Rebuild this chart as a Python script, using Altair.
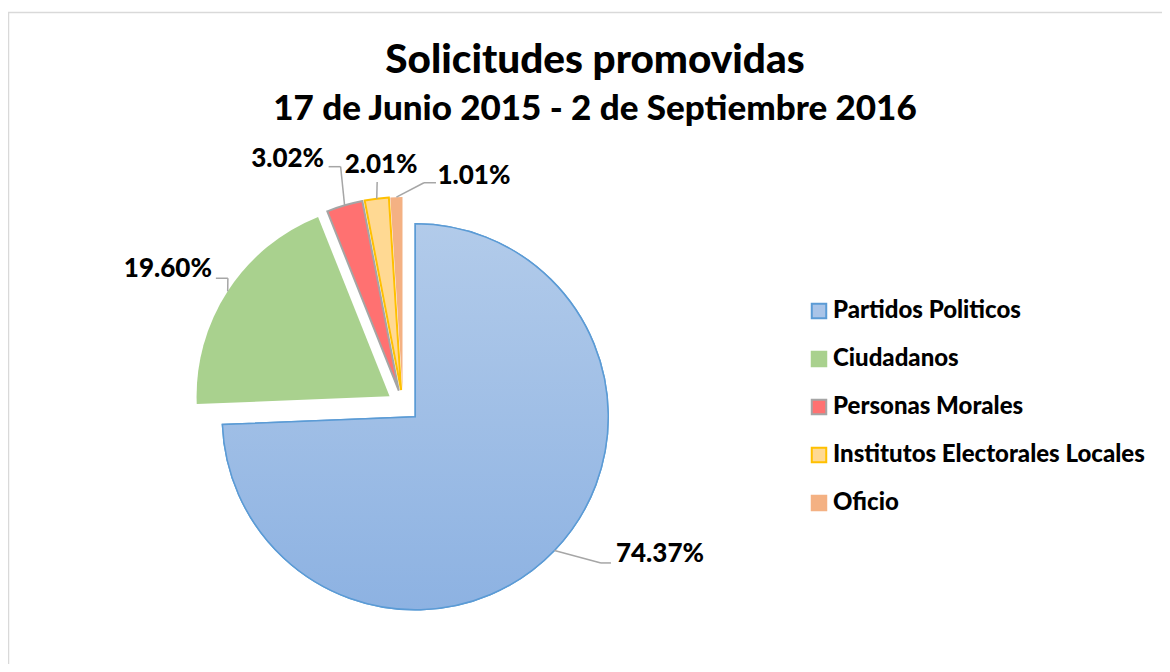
import altair as alt
import pandas as pd

# ---- data ----
categories = ["Partidos Politicos", "Ciudadanos", "Personas Morales",
              "Institutos Electorales Locales", "Oficio"]
shares = [74.37, 19.60, 3.02, 2.01, 1.01]
labels = ["74.37%", "19.60%", "3.02%", "2.01%", "1.01%"]

# ---- styles ----
fills = ["#A9C4E8", "#A9D18E", "#FF7171", "#FFD993", "#F4B183"]
strokes = ["#5B9BD5", "#A9D18E", "#A5A5A5", "#FFC000", "#F4B183"]
stroke_w = [1.5, 0, 2, 2, 0]
explode = [17, 16, 15, 15, 15]

# ---- layout (pie centre, radius, label placement in polar terms) ----
CX, CY, R = 395, 397, 193
label_angle = [120.1, 300.0, 334.9, 354.8, 17.2]
label_radius = [297, 271.5, 272, 241, 240]
end_dx = [-49, 48, 41, -4, -38]
end_dy = [9, 9, 8, 17, 7]
stub = [-10, 12, 12, 0, -12]

W, H = 1154, 656
FONT = "Lato"
WEIGHT = 900

df = pd.DataFrame({
    "idx": list(range(len(categories))),
    "cat": categories,
    "share": shares,
    "label": labels,
    "explode": explode,
    "sw": stroke_w,
    "la": label_angle,
    "lr": label_radius,
    "edx": end_dx,
    "edy": end_dy,
    "stub": stub,
})

PI = "PI"
base = (
    alt.Chart(df)
    .transform_joinaggregate(total="sum(share)")
    .transform_window(cum="sum(share)", sort=[alt.SortField("idx")], frame=[None, 0])
    .transform_calculate(
        t0=f"2*{PI}*(datum.cum - datum.share)/datum.total",
        t1=f"2*{PI}*datum.cum/datum.total",
    )
    .transform_calculate(mid="(datum.t0 + datum.t1)/2")
    .transform_calculate(
        cx=f"{CX} + datum.explode*sin(datum.mid)",
        cy=f"{CY} - datum.explode*cos(datum.mid)",
    )
    .transform_calculate(
        ex=f"datum.cx + {R}*sin(datum.mid)",
        ey=f"datum.cy - {R}*cos(datum.mid)",
        lx=f"{CX} + datum.lr*sin(datum.la*{PI}/180)",
        ly=f"{CY} - datum.lr*cos(datum.la*{PI}/180)",
    )
    .transform_calculate(
        endx="datum.lx + datum.edx",
        endy="datum.ly + datum.edy",
    )
    .transform_calculate(elbx="datum.endx + datum.stub")
)

legend = alt.Legend(
    title=None, orient="none", legendX=799, legendY=291,
    symbolType="square", symbolSize=210, symbolStrokeWidth=2,
    labelFont=FONT, labelFontWeight=WEIGHT, labelFontSize=24, labelColor="#000000",
    labelOffset=2, rowPadding=24, labelLimit=400,
)

arcs = base.mark_arc(radius=R).encode(
    theta=alt.Theta("t0:Q", scale=None),
    theta2="t1:Q",
    x=alt.X("cx:Q", scale=None),
    y=alt.Y("cy:Q", scale=None),
    fill=alt.Fill("cat:N", scale=alt.Scale(domain=categories, range=fills), legend=legend),
    stroke=alt.Stroke("cat:N", scale=alt.Scale(domain=categories, range=strokes), legend=legend),
    strokeWidth=alt.StrokeWidth("sw:Q", scale=None, legend=None),
)

grad = alt.LinearGradient(
    gradient="linear",
    stops=[alt.GradientStop(color="#B2CBEA", offset=0),
           alt.GradientStop(color="#8DB2E2", offset=1)],
    x1=0, x2=0, y1=0, y2=1,
)
blue = base.transform_filter(alt.datum.idx == 0).mark_arc(
    radius=R, fill=grad, stroke="#5B9BD5", strokeWidth=1.5
).encode(
    theta=alt.Theta("t0:Q", scale=None),
    theta2="t1:Q",
    x=alt.X("cx:Q", scale=None),
    y=alt.Y("cy:Q", scale=None),
)

lead1 = base.mark_rule(color="#A6A6A6", strokeWidth=1.5).encode(
    x=alt.X("ex:Q", scale=None), y=alt.Y("ey:Q", scale=None),
    x2="elbx:Q", y2="endy:Q",
)
lead2 = base.mark_rule(color="#A6A6A6", strokeWidth=1.5).encode(
    x=alt.X("elbx:Q", scale=None), y=alt.Y("endy:Q", scale=None),
    x2="endx:Q", y2="endy:Q",
)
texts = base.mark_text(
    font=FONT, fontWeight=WEIGHT, fontSize=26, color="#000000",
    align="center", baseline="middle",
).encode(
    x=alt.X("lx:Q", scale=None), y=alt.Y("ly:Q", scale=None), text="label:N",
)

title_df = pd.DataFrame({"t": ["Solicitudes promovidas"]})
sub_df = pd.DataFrame({"t": ["17 de Junio 2015 - 2 de Septiembre 2016"]})
title = alt.Chart(title_df).mark_text(
    font=FONT, fontWeight=WEIGHT, fontSize=40.5, color="#000000",
    align="center", baseline="alphabetic",
).encode(x=alt.value(587), y=alt.value(65), text="t:N")
subtitle = alt.Chart(sub_df).mark_text(
    font=FONT, fontWeight=WEIGHT, fontSize=35, color="#000000",
    align="center", baseline="alphabetic",
).encode(x=alt.value(587), y=alt.value(112), text="t:N")

frame_df = pd.DataFrame({"k": [0]})
frame_top = alt.Chart(frame_df).mark_rule(color="#D9D9D9", strokeWidth=1.5).encode(
    x=alt.value(0), x2=alt.value(W), y=alt.value(4.5), y2=alt.value(4.5))
frame_left = alt.Chart(frame_df).mark_rule(color="#D9D9D9", strokeWidth=1.5).encode(
    x=alt.value(0.5), x2=alt.value(0.5), y=alt.value(4.5), y2=alt.value(H))

chart = alt.layer(
    frame_top, frame_left, arcs, blue, lead1, lead2, texts, title, subtitle
).properties(
    width=W, height=H, autosize="none", padding=0
).configure_view(stroke=None)

chart.save("out.html", embed_options={"renderer": "svg", "actions": False})
